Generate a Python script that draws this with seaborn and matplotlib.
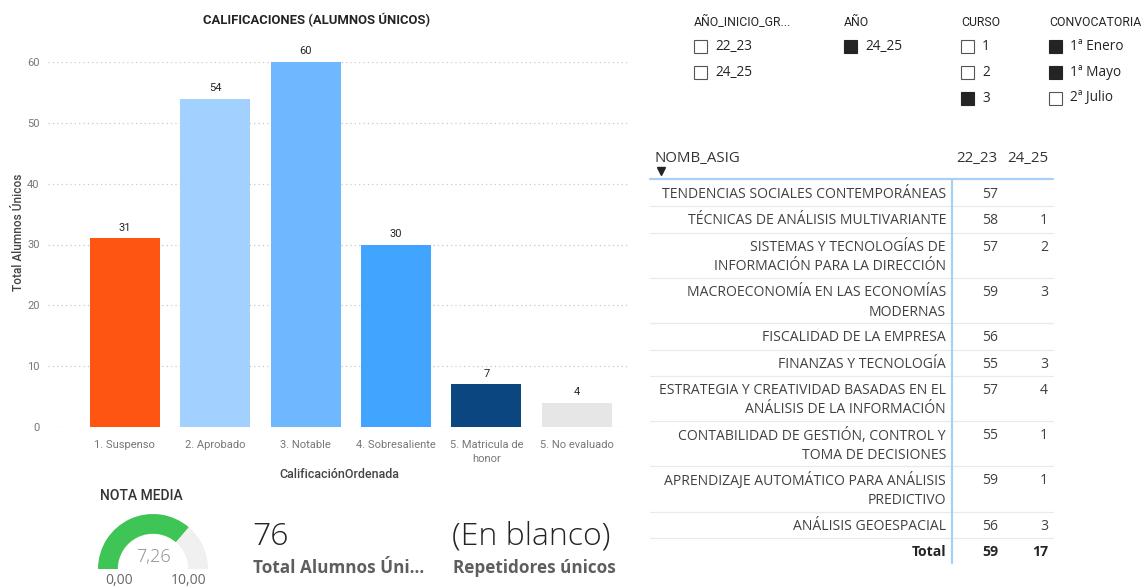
import matplotlib
matplotlib.use("Agg")
import matplotlib.pyplot as plt
import seaborn as sns
import pandas as pd
from matplotlib.patches import Rectangle

# ---------------- data ----------------
categories = ["1. Suspenso", "2. Aprobado", "3. Notable", "4. Sobresaliente",
              "5. Matricula de\nhonor", "5. No evaluado"]
values = [31, 54, 60, 30, 7, 4]
bar_colors = ["#FE5512", "#A3D1FF", "#6FB8FF", "#41A5FF", "#0B4680", "#E6E6E6"]
y_ticks = [0, 10, 20, 30, 40, 50, 60]

nota_media = 7.26
nota_min = 0.0
nota_max = 10.0
total_alumnos = 76
repetidores = "(En blanco)"

slicer_titles = ["AÑO_INICIO_GR...", "AÑO", "CURSO", "CONVOCATORIA"]
slicer_items = [["22_23", "24_25"], ["24_25"], ["1", "2", "3"],
                ["1ª Enero", "1ª Mayo", "2ª Julio"]]
slicer_checked = [[False, False], [True], [False, False, True], [True, True, False]]

table_cols = ["22_23", "24_25"]
asignaturas = [
    "TENDENCIAS SOCIALES CONTEMPORÁNEAS",
    "TÉCNICAS DE ANÁLISIS MULTIVARIANTE",
    "SISTEMAS Y TECNOLOGÍAS DE\nINFORMACIÓN PARA LA DIRECCIÓN",
    "MACROECONOMÍA EN LAS ECONOMÍAS\nMODERNAS",
    "FISCALIDAD DE LA EMPRESA",
    "FINANZAS Y TECNOLOGÍA",
    "ESTRATEGIA Y CREATIVIDAD BASADAS EN EL\nANÁLISIS DE LA INFORMACIÓN",
    "CONTABILIDAD DE GESTIÓN, CONTROL Y\nTOMA DE DECISIONES",
    "APRENDIZAJE AUTOMÁTICO PARA ANÁLISIS\nPREDICTIVO",
    "ANÁLISIS GEOESPACIAL",
]
col_22_23 = [57, 58, 57, 59, 56, 55, 57, 55, 59, 56]
col_24_25 = [None, 1, 2, 3, None, 3, 4, 1, 1, 3]
total_22_23 = 59
total_24_25 = 17

# ---------------- style ----------------
sns.set_theme(style="white")
DIN = ["Roboto", "DejaVu Sans"]
SEG = ["Open Sans", "DejaVu Sans"]
plt.rcParams["font.family"] = DIN

W, H = 1143, 588
fig = plt.figure(figsize=(W / 100, H / 100), dpi=100)
fig.patch.set_facecolor("white")


def fr(x0, y0, x1, y1):
    return [x0 / W, 1 - y1 / H, (x1 - x0) / W, (y1 - y0) / H]


# ---------------- bar chart ----------------
ax = fig.add_axes(fr(48, 62, 630, 427))
df = pd.DataFrame({"cat": categories, "val": values})
sns.barplot(data=df, x="cat", y="val", hue="cat", palette=bar_colors,
            legend=False, ax=ax, width=0.775, saturation=1, edgecolor="none")
ax.set_ylim(0, 60)
ax.set_xlim(-0.85, 5.59)
ax.set_yticks(y_ticks)
ax.yaxis.grid(True, linestyle=(0, (1, 2.5)), color="#C8C8C8", linewidth=0.9)
ax.set_axisbelow(True)
for s in ax.spines.values():
    s.set_visible(False)
ax.tick_params(axis="both", length=0, labelsize=8, labelcolor="#777777")
ax.tick_params(axis="y", pad=6)
ax.tick_params(axis="x", pad=9)
plt.setp(ax.get_xticklabels(), linespacing=1.55)
ax.set_xlabel("")
ax.set_ylabel("")
for c in ax.containers:
    ax.bar_label(c, padding=4, fontsize=8, color="#252423", clip_on=False)
ax.text(0.5, -0.113, "CalificaciónOrdenada", transform=ax.transAxes,
        ha="center", va="top", fontsize=9, color="#444444", fontweight="medium")
ax.text(-0.0515, 0.534, "Total Alumnos Únicos", transform=ax.transAxes,
        ha="center", va="center", rotation=90, fontsize=8.6, color="#444444",
        fontweight="medium")

# ---------------- gauge ----------------
gx = fig.add_axes(fr(98, 514, 208, 624))
gx.pie([nota_media - nota_min, nota_max - nota_media, nota_max - nota_min],
       colors=["#3FC456", "#F0F0F0", "none"], startangle=180, counterclock=False,
       radius=1, wedgeprops=dict(width=0.36, edgecolor="none"))
gx.set_xlim(-1, 1)
gx.set_ylim(-1, 1)
gx.set_aspect("equal")
gx.axis("off")

# ---------------- overlay for text elements ----------------
ov = fig.add_axes([0, 0, 1, 1], zorder=5)
ov.set_xlim(0, W)
ov.set_ylim(H, 0)
ov.axis("off")
ov.patch.set_alpha(0)

ov.text(317, 20, "CALIFICACIONES (ALUMNOS ÚNICOS)", ha="center", va="center",
        fontsize=9.4, fontweight="bold", color="#252423")

# gauge texts
ov.text(100, 496, "NOTA MEDIA", ha="left", va="center", fontsize=10,
        color="#333333", fontweight="medium")
ov.text(153, 557, f"{nota_media:.2f}".replace(".", ","), ha="center", va="center",
        fontsize=13, color="#8A8A8A", family=SEG, fontweight="light")
ov.text(119, 581, f"{nota_min:.2f}".replace(".", ","), ha="center", va="center",
        fontsize=10, color="#666666", family=SEG)
ov.text(189, 581, f"{nota_max:.2f}".replace(".", ","), ha="center", va="center",
        fontsize=10, color="#666666", family=SEG)

# KPI cards
ov.text(252, 537, str(total_alumnos), ha="left", va="center", fontsize=23,
        color="#252423", family=SEG, fontweight="light")
ov.text(253, 568, "Total Alumnos Úni...", ha="left", va="center", fontsize=12.3,
        color="#605E5C", family=SEG, fontweight="bold")
ov.text(452, 537, repetidores, ha="left", va="center", fontsize=23,
        color="#252423", family=SEG, fontweight="light")
ov.text(453, 568, "Repetidores únicos", ha="left", va="center", fontsize=12.3,
        color="#605E5C", family=SEG, fontweight="bold")

# slicers
slicer_x = [694, 844, 961, 1049]
row_y = [46, 72, 98]
for sx, title, items, checks in zip(slicer_x, slicer_titles, slicer_items, slicer_checked):
    ov.text(sx, 22, title, ha="left", va="center", fontsize=8.8, color="#252423")
    for i, (it, ck) in enumerate(zip(items, checks)):
        yc = row_y[i]
        ov.add_patch(Rectangle((sx, yc - 6.5), 13, 13,
                               facecolor="#252423" if ck else "white",
                               edgecolor="#252423" if ck else "#555555", linewidth=0.8))
        ov.text(sx + 21, yc, it, ha="left", va="center", fontsize=9.8,
                color="#252423", family=SEG)

# table
name_right = 946
c1_right = 998
c2_right = 1048
tab_l, tab_r = 650, 1053
hdr_kw = dict(fontsize=10.8, color="#333333", family=SEG)
ov.text(655, 158, "NOMB_ASIG", ha="left", va="center", **hdr_kw)
ov.plot([661], [171], marker="v", markersize=6, color="#252423")
ov.text(997, 158, table_cols[0], ha="right", va="center", **hdr_kw)
ov.text(1048, 158, table_cols[1], ha="right", va="center", **hdr_kw)

top = 180
line_h = 19.5
txt_kw = dict(fontsize=10.1, color="#404040", family=SEG)
for name, v1, v2 in zip(asignaturas, col_22_23, col_24_25):
    lines = name.split("\n")
    h = 26.4 if len(lines) == 1 else 45.2
    for j, ln in enumerate(lines):
        ov.text(name_right, top + 14.5 + j * line_h, ln, ha="right", va="center", **txt_kw)
    ov.text(c1_right, top + 14.5, str(v1), ha="right", va="center", **txt_kw)
    if v2 is not None:
        ov.text(c2_right, top + 14.5, str(v2), ha="right", va="center", **txt_kw)
    top += h
    ov.plot([tab_l, tab_r], [top, top], color="#EAEAEA", linewidth=0.9)
tot_kw = dict(fontsize=10.1, color="#252423", family=SEG, fontweight="bold")
ov.text(name_right, top + 14, "Total", ha="right", va="center", **tot_kw)
ov.text(c1_right, top + 14, str(total_22_23), ha="right", va="center", **tot_kw)
ov.text(c2_right, top + 14, str(total_24_25), ha="right", va="center", **tot_kw)
ov.plot([tab_l, tab_r], [179, 179], color="#A8D0F5", linewidth=1.6)
ov.plot([952, 952], [179, top + 25], color="#A8D0F5", linewidth=1.6)

fig.savefig("out.png", dpi=100, facecolor="white")
